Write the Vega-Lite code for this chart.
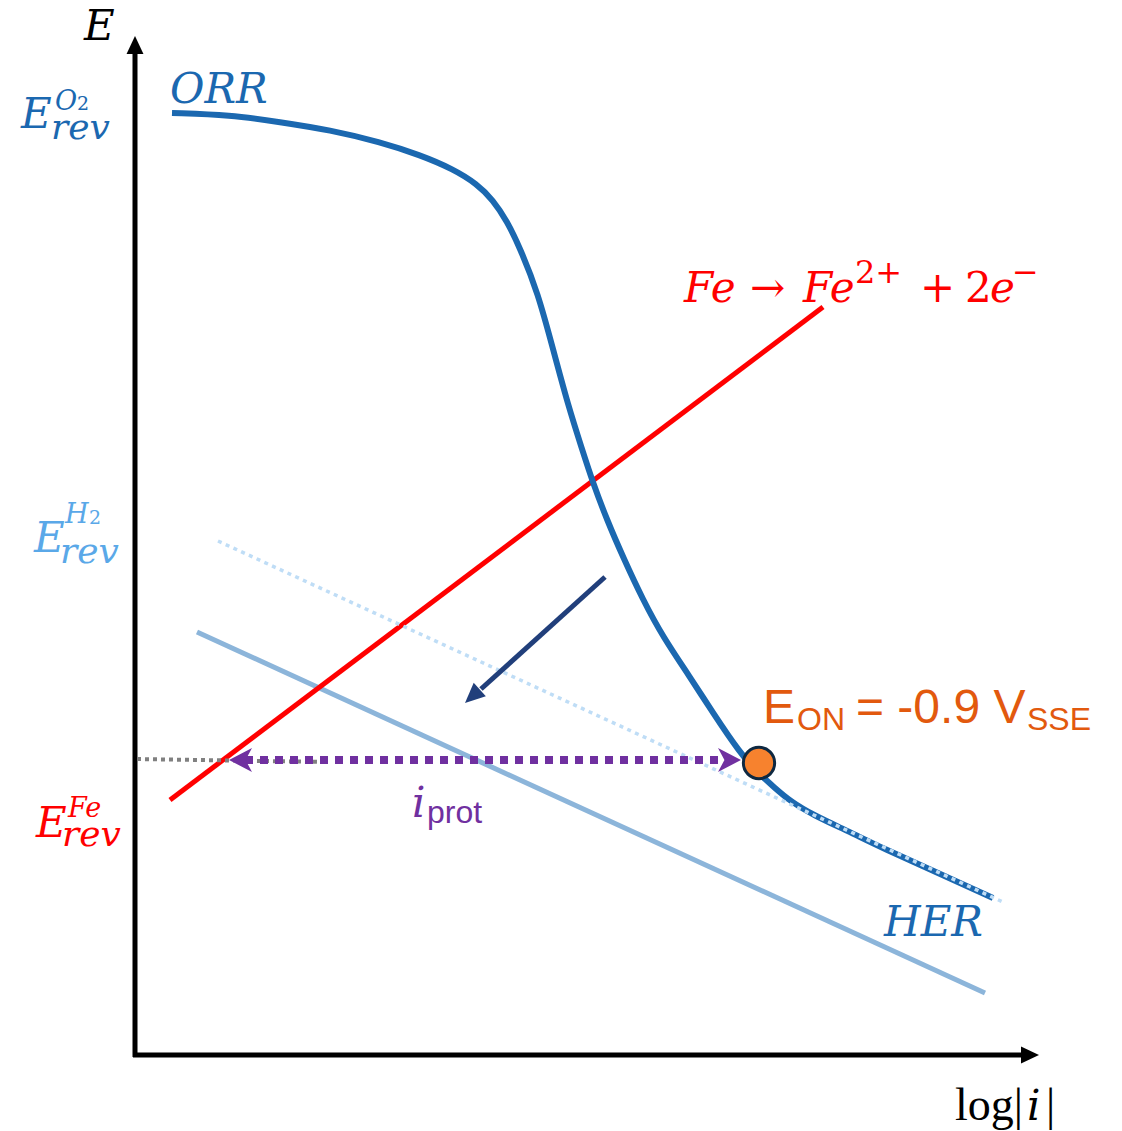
{
  "$schema": "https://vega.github.io/schema/vega-lite/v6.json",
  "width": 1122,
  "height": 1131,
  "autosize": {"type": "fit", "contains": "padding"},
  "padding": 0,
  "background": "white",
  "config": {"view": {"stroke": null}},
  "datasets": {
    "axes": [
      {"axis": "E", "x": 135, "y": 1057, "x2": 135, "y2": 50},
      {"axis": "log|i|", "x": 133, "y": 1055, "x2": 1024, "y2": 1055}
    ],
    "curves": [
      {"curve": "HER", "x": 197, "y": 632},
      {"curve": "HER", "x": 985, "y": 993},
      {"curve": "Fe", "x": 170, "y": 800},
      {"curve": "Fe", "x": 823, "y": 307},
      {"curve": "HERext", "x": 218, "y": 541},
      {"curve": "HERext", "x": 1005, "y": 903},
      {"curve": "gray", "x": 137, "y": 759},
      {"curve": "gray", "x": 325, "y": 762},
      {"curve": "prot", "x": 245, "y": 760},
      {"curve": "prot", "x": 722, "y": 760},
      {"curve": "navy", "x": 605, "y": 577},
      {"curve": "navy", "x": 481, "y": 689},
      {"curve": "ORR", "x": 172, "y": 113},
      {"curve": "ORR", "x": 230, "y": 115},
      {"curve": "ORR", "x": 280, "y": 122},
      {"curve": "ORR", "x": 330, "y": 130},
      {"curve": "ORR", "x": 380, "y": 142},
      {"curve": "ORR", "x": 420, "y": 155},
      {"curve": "ORR", "x": 453, "y": 169},
      {"curve": "ORR", "x": 477, "y": 184},
      {"curve": "ORR", "x": 493, "y": 200},
      {"curve": "ORR", "x": 507, "y": 221},
      {"curve": "ORR", "x": 520, "y": 248},
      {"curve": "ORR", "x": 538, "y": 293},
      {"curve": "ORR", "x": 553, "y": 349},
      {"curve": "ORR", "x": 568, "y": 405},
      {"curve": "ORR", "x": 582, "y": 449},
      {"curve": "ORR", "x": 593, "y": 483},
      {"curve": "ORR", "x": 607, "y": 520},
      {"curve": "ORR", "x": 623, "y": 557},
      {"curve": "ORR", "x": 643, "y": 600},
      {"curve": "ORR", "x": 663, "y": 637},
      {"curve": "ORR", "x": 690, "y": 677},
      {"curve": "ORR", "x": 713, "y": 713},
      {"curve": "ORR", "x": 740, "y": 753},
      {"curve": "ORR", "x": 758, "y": 773},
      {"curve": "ORR", "x": 775, "y": 788},
      {"curve": "ORR", "x": 790, "y": 801},
      {"curve": "ORR", "x": 813, "y": 815},
      {"curve": "ORR", "x": 850, "y": 832},
      {"curve": "ORR", "x": 880, "y": 847},
      {"curve": "ORR", "x": 947, "y": 877},
      {"curve": "ORR", "x": 993, "y": 898}
    ],
    "axisHeads": [
      {"axis": "E", "x": 135, "y": 36, "dir": 0},
      {"axis": "log|i|", "x": 1039, "y": 1055, "dir": 90}
    ],
    "protHeads": [
      {"end": "left", "x": 229, "y": 760, "dir": 270},
      {"end": "right", "x": 741, "y": 760, "dir": 90}
    ],
    "navyHead": [
      {"x": 465, "y": 703, "dir": 227.6}
    ],
    "onset": [
      {"label": "E_ON", "x": 759, "y": 763}
    ],
    "mathItalic": [
      {"t": "E", "x": 84, "y": 40, "ink": "axis"},
      {"t": "ORR", "x": 170, "y": 103, "ink": "ORR"},
      {"t": "HER", "x": 884, "y": 936, "ink": "ORR"},
      {"t": "E", "x": 21, "y": 128, "ink": "ORR"},
      {"t": "E", "x": 34, "y": 552, "ink": "H2"},
      {"t": "E", "x": 36, "y": 837, "ink": "Fe"},
      {"t": "Fe", "x": 684, "y": 302, "ink": "Fe"},
      {"t": "Fe", "x": 803, "y": 302, "ink": "Fe"},
      {"t": "e", "x": 990, "y": 302, "ink": "Fe"},
      {"t": "i", "x": 412, "y": 817, "ink": "prot"}
    ],
    "mathUpright": [
      {"t": "→", "x": 750, "y": 302, "ink": "Fe"},
      {"t": "+", "x": 920, "y": 302, "ink": "Fe"},
      {"t": "2", "x": 965, "y": 302, "ink": "Fe"}
    ],
    "supItalic": [
      {"t": "O", "x": 55, "y": 110, "ink": "ORR"},
      {"t": "H", "x": 65, "y": 523, "ink": "H2"},
      {"t": "Fe", "x": 68, "y": 817, "ink": "Fe"}
    ],
    "supDigit": [
      {"t": "2", "x": 77, "y": 110, "ink": "ORR"},
      {"t": "2", "x": 89, "y": 524, "ink": "H2"}
    ],
    "supCharge": [
      {"t": "2+", "x": 855, "y": 283, "ink": "Fe"},
      {"t": "−", "x": 1012, "y": 283, "ink": "Fe"}
    ],
    "revSub": [
      {"t": "rev", "x": 51, "y": 139, "ink": "ORR"},
      {"t": "rev", "x": 60, "y": 563, "ink": "H2"},
      {"t": "rev", "x": 62, "y": 846, "ink": "Fe"}
    ],
    "logUpright": [
      {"t": "log|", "x": 955, "y": 1120},
      {"t": "|", "x": 1046, "y": 1120}
    ],
    "logItalic": [
      {"t": "i", "x": 1027, "y": 1120}
    ],
    "eonBig": [
      {"t": "E", "x": 763, "y": 723},
      {"t": "= -0.9 V", "x": 856, "y": 723}
    ],
    "eonSmall": [
      {"t": "ON", "x": 797, "y": 730},
      {"t": "SSE", "x": 1027, "y": 730}
    ],
    "protSub": [
      {"t": "prot", "x": 427, "y": 823}
    ]
  },
  "layer": [
    {
      "data": {"name": "axes"},
      "mark": {"type": "rule", "color": "#000000", "strokeWidth": 5, "strokeCap": "butt"},
      "encoding": {
        "x": {"field": "x", "type": "quantitative", "scale": {"domain": [0, 1122], "nice": false, "zero": false}, "axis": null},
        "y": {"field": "y", "type": "quantitative", "scale": {"domain": [0, 1131], "reverse": true, "nice": false, "zero": false}, "axis": null},
        "x2": {"field": "x2"},
        "y2": {"field": "y2"}
      }
    },
    {
      "data": {"name": "curves"},
      "transform": [{"filter": "datum.curve === 'HER'"}],
      "mark": {"type": "line", "color": "#8CB5DA", "strokeWidth": 5, "strokeCap": "butt"},
      "encoding": {
        "x": {"field": "x", "type": "quantitative", "scale": {"domain": [0, 1122], "nice": false, "zero": false}, "axis": null},
        "y": {"field": "y", "type": "quantitative", "scale": {"domain": [0, 1131], "reverse": true, "nice": false, "zero": false}, "axis": null}
      }
    },
    {
      "data": {"name": "curves"},
      "transform": [{"filter": "datum.curve === 'Fe'"}],
      "mark": {"type": "line", "color": "#FF0000", "strokeWidth": 5, "strokeCap": "butt"},
      "encoding": {
        "x": {"field": "x", "type": "quantitative", "axis": null},
        "y": {"field": "y", "type": "quantitative", "axis": null}
      }
    },
    {
      "data": {"name": "curves"},
      "transform": [{"filter": "datum.curve === 'ORR'"}],
      "mark": {"type": "line", "color": "#1B68B0", "strokeWidth": 6, "strokeCap": "butt", "interpolate": "basis"},
      "encoding": {
        "x": {"field": "x", "type": "quantitative", "axis": null},
        "y": {"field": "y", "type": "quantitative", "axis": null}
      }
    },
    {
      "data": {"name": "curves"},
      "transform": [{"filter": "datum.curve === 'HERext'"}],
      "mark": {"type": "line", "color": "#BFDDF6", "strokeWidth": 3.5, "strokeDash": [4, 4.5], "strokeCap": "butt"},
      "encoding": {
        "x": {"field": "x", "type": "quantitative", "axis": null},
        "y": {"field": "y", "type": "quantitative", "axis": null}
      }
    },
    {
      "data": {"name": "curves"},
      "transform": [{"filter": "datum.curve === 'gray'"}],
      "mark": {"type": "line", "color": "#808080", "strokeWidth": 4, "strokeDash": [4, 4], "strokeCap": "butt"},
      "encoding": {
        "x": {"field": "x", "type": "quantitative", "axis": null},
        "y": {"field": "y", "type": "quantitative", "axis": null}
      }
    },
    {
      "data": {"name": "curves"},
      "transform": [{"filter": "datum.curve === 'prot'"}],
      "mark": {"type": "line", "color": "#7030A0", "strokeWidth": 8, "strokeDash": [8, 7], "strokeCap": "butt"},
      "encoding": {
        "x": {"field": "x", "type": "quantitative", "axis": null},
        "y": {"field": "y", "type": "quantitative", "axis": null}
      }
    },
    {
      "data": {"name": "curves"},
      "transform": [{"filter": "datum.curve === 'navy'"}],
      "mark": {"type": "line", "color": "#213F7B", "strokeWidth": 5, "strokeCap": "butt"},
      "encoding": {
        "x": {"field": "x", "type": "quantitative", "axis": null},
        "y": {"field": "y", "type": "quantitative", "axis": null}
      }
    },
    {
      "data": {"name": "axisHeads"},
      "mark": {"type": "point", "shape": "M0,0L-0.47,1L0.47,1Z", "filled": true, "color": "#000000", "opacity": 1, "size": 1296, "strokeWidth": 0},
      "encoding": {
        "x": {"field": "x", "type": "quantitative", "axis": null},
        "y": {"field": "y", "type": "quantitative", "axis": null},
        "angle": {"field": "dir", "type": "quantitative", "scale": null}
      }
    },
    {
      "data": {"name": "protHeads"},
      "mark": {"type": "point", "shape": "M0,0L-0.52,1L0,0.72L0.52,1Z", "filled": true, "color": "#7030A0", "opacity": 1, "size": 2116, "strokeWidth": 0},
      "encoding": {
        "x": {"field": "x", "type": "quantitative", "axis": null},
        "y": {"field": "y", "type": "quantitative", "axis": null},
        "angle": {"field": "dir", "type": "quantitative", "scale": null}
      }
    },
    {
      "data": {"name": "navyHead"},
      "mark": {"type": "point", "shape": "M0,0L-0.45,1L0.45,1Z", "filled": true, "color": "#213F7B", "opacity": 1, "size": 1600, "strokeWidth": 0},
      "encoding": {
        "x": {"field": "x", "type": "quantitative", "axis": null},
        "y": {"field": "y", "type": "quantitative", "axis": null},
        "angle": {"field": "dir", "type": "quantitative", "scale": null}
      }
    },
    {
      "data": {"name": "onset"},
      "mark": {"type": "point", "shape": "circle", "filled": true, "fill": "#F7822E", "stroke": "#0E2841", "strokeWidth": 3, "opacity": 1, "size": 980},
      "encoding": {
        "x": {"field": "x", "type": "quantitative", "axis": null},
        "y": {"field": "y", "type": "quantitative", "axis": null}
      }
    },
    {
      "data": {"name": "mathItalic"},
      "mark": {"type": "text", "font": "DejaVu Serif", "fontStyle": "italic", "fontSize": 42, "align": "left", "baseline": "alphabetic"},
      "encoding": {
        "x": {"field": "x", "type": "quantitative", "axis": null},
        "y": {"field": "y", "type": "quantitative", "axis": null},
        "text": {"field": "t"},
        "color": {"field": "ink", "type": "nominal", "legend": null, "scale": {"domain": ["axis", "ORR", "H2", "Fe", "prot"], "range": ["#000000", "#1B68B0", "#5AA8E8", "#FF0000", "#7030A0"]}}
      }
    },
    {
      "data": {"name": "mathUpright"},
      "mark": {"type": "text", "font": "DejaVu Serif", "fontSize": 42, "align": "left", "baseline": "alphabetic", "color": "#FF0000"},
      "encoding": {
        "x": {"field": "x", "type": "quantitative", "axis": null},
        "y": {"field": "y", "type": "quantitative", "axis": null},
        "text": {"field": "t"}
      }
    },
    {
      "data": {"name": "supItalic"},
      "mark": {"type": "text", "font": "DejaVu Serif", "fontStyle": "italic", "fontSize": 27, "align": "left", "baseline": "alphabetic"},
      "encoding": {
        "x": {"field": "x", "type": "quantitative", "axis": null},
        "y": {"field": "y", "type": "quantitative", "axis": null},
        "text": {"field": "t"},
        "color": {"field": "ink", "type": "nominal", "legend": null}
      }
    },
    {
      "data": {"name": "supDigit"},
      "mark": {"type": "text", "font": "DejaVu Serif", "fontSize": 19, "align": "left", "baseline": "alphabetic"},
      "encoding": {
        "x": {"field": "x", "type": "quantitative", "axis": null},
        "y": {"field": "y", "type": "quantitative", "axis": null},
        "text": {"field": "t"},
        "color": {"field": "ink", "type": "nominal", "legend": null}
      }
    },
    {
      "data": {"name": "supCharge"},
      "mark": {"type": "text", "font": "DejaVu Serif", "fontSize": 32, "align": "left", "baseline": "alphabetic", "color": "#FF0000"},
      "encoding": {
        "x": {"field": "x", "type": "quantitative", "axis": null},
        "y": {"field": "y", "type": "quantitative", "axis": null},
        "text": {"field": "t"}
      }
    },
    {
      "data": {"name": "revSub"},
      "mark": {"type": "text", "font": "DejaVu Serif", "fontStyle": "italic", "fontSize": 36, "align": "left", "baseline": "alphabetic"},
      "encoding": {
        "x": {"field": "x", "type": "quantitative", "axis": null},
        "y": {"field": "y", "type": "quantitative", "axis": null},
        "text": {"field": "t"},
        "color": {"field": "ink", "type": "nominal", "legend": null}
      }
    },
    {
      "data": {"name": "logUpright"},
      "mark": {"type": "text", "font": "Liberation Serif", "fontSize": 46, "align": "left", "baseline": "alphabetic", "color": "#000000"},
      "encoding": {
        "x": {"field": "x", "type": "quantitative", "axis": null},
        "y": {"field": "y", "type": "quantitative", "axis": null},
        "text": {"field": "t"}
      }
    },
    {
      "data": {"name": "logItalic"},
      "mark": {"type": "text", "font": "DejaVu Serif", "fontStyle": "italic", "fontSize": 42, "align": "left", "baseline": "alphabetic", "color": "#000000"},
      "encoding": {
        "x": {"field": "x", "type": "quantitative", "axis": null},
        "y": {"field": "y", "type": "quantitative", "axis": null},
        "text": {"field": "t"}
      }
    },
    {
      "data": {"name": "eonBig"},
      "mark": {"type": "text", "font": "Liberation Sans", "fontSize": 48, "align": "left", "baseline": "alphabetic", "color": "#E2590E"},
      "encoding": {
        "x": {"field": "x", "type": "quantitative", "axis": null},
        "y": {"field": "y", "type": "quantitative", "axis": null},
        "text": {"field": "t"}
      }
    },
    {
      "data": {"name": "eonSmall"},
      "mark": {"type": "text", "font": "Liberation Sans", "fontSize": 32, "align": "left", "baseline": "alphabetic", "color": "#E2590E"},
      "encoding": {
        "x": {"field": "x", "type": "quantitative", "axis": null},
        "y": {"field": "y", "type": "quantitative", "axis": null},
        "text": {"field": "t"}
      }
    },
    {
      "data": {"name": "protSub"},
      "mark": {"type": "text", "font": "Liberation Sans", "fontSize": 32, "align": "left", "baseline": "alphabetic", "color": "#7030A0"},
      "encoding": {
        "x": {"field": "x", "type": "quantitative", "axis": null},
        "y": {"field": "y", "type": "quantitative", "axis": null},
        "text": {"field": "t"}
      }
    }
  ]
}
